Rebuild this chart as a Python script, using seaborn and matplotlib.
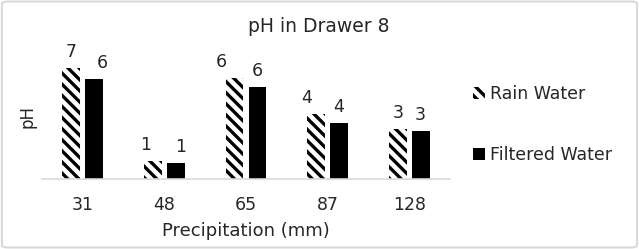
import matplotlib
matplotlib.use("Agg")
import matplotlib.pyplot as plt
import seaborn as sns
import pandas as pd
from matplotlib.patches import FancyBboxPatch, Patch

# data
precip = ["31", "48", "65", "87", "128"]
rain_ph = [7.05, 1.14, 6.41, 4.13, 3.17]
filtered_ph = [6.35, 1.02, 5.84, 3.56, 3.05]
series = ["Rain Water", "Filtered Water"]

# small sideways nudges of the value labels (pixels), as Excel placed them
label_nudge = [[0, -7, -13, -10, 0], [8, 5, 0, 0, 0]]

df = pd.DataFrame({
    "Precipitation": precip * 2,
    "pH": rain_ph + filtered_ph,
    "Water": [series[0]] * len(precip) + [series[1]] * len(precip),
})

sns.set_style("white")
plt.rcParams["font.family"] = ["DejaVu Sans"]
plt.rcParams["hatch.linewidth"] = 2.4

fig = plt.figure(figsize=(6.39, 2.49), dpi=100)
ax = fig.add_axes([42 / 639, 70 / 249, 408 / 639, 126 / 249])

sns.barplot(data=df, x="Precipitation", y="pH", hue="Water", order=precip,
            hue_order=series, palette=["white", "black"], width=0.56, gap=0.22,
            ax=ax, legend=False, edgecolor="black", linewidth=0)

for bar in ax.containers[0]:
    bar.set_hatch("\\\\\\")
    bar.set_edgecolor("black")
    bar.set_linewidth(0)

px = 72 / 100
for cont, nudges in zip(ax.containers, label_nudge):
    for bar, dx in zip(cont, nudges):
        h = bar.get_height()
        ax.annotate(f"{h:.0f}", (bar.get_x() + bar.get_width() / 2, h),
                    xytext=(dx * px, 16 * px), textcoords="offset points",
                    ha="center", va="center", fontsize=12.5, color="#262626")

ax.set_ylim(0, 8)
ax.set_yticks([])
for s in ["top", "right", "left"]:
    ax.spines[s].set_visible(False)
ax.spines["bottom"].set_color("#d9d9d9")
ax.spines["bottom"].set_linewidth(1.2)
ax.tick_params(axis="x", length=0, pad=12, labelsize=12.5, labelcolor="#262626")
ax.set_xlabel("Precipitation (mm)", fontsize=13, color="#262626", labelpad=6)
ax.set_ylabel("pH", fontsize=12, color="#262626", labelpad=4)

fig.text(319 / 639, 1 - 27 / 249, "pH in Drawer 8", ha="center", va="center",
         fontsize=13.5, color="#262626")

handles = [Patch(facecolor="white", edgecolor="black", hatch="\\\\\\", linewidth=0),
           Patch(facecolor="black", edgecolor="black", linewidth=0)]
fig.legend(handles, series, loc="center left", bbox_to_anchor=(457 / 639, 0.5),
           frameon=False, fontsize=12.5, handlelength=0.7, handleheight=0.7,
           handletextpad=0.3, labelspacing=2.5, labelcolor="#262626")

border = FancyBboxPatch((0.003, 0.006), 0.994, 0.988, boxstyle="round,pad=0,rounding_size=0.01",
                        transform=fig.transFigure, facecolor="none",
                        edgecolor="#d9d9d9", linewidth=1.5)
fig.patches.append(border)

fig.savefig("out.png", dpi=100)
